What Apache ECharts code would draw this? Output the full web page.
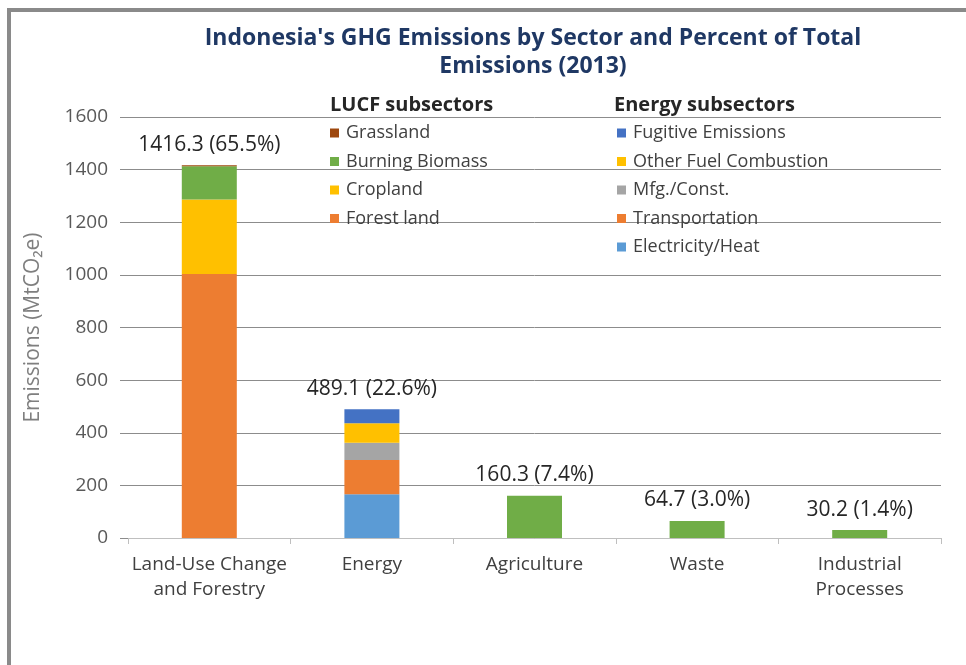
<!DOCTYPE html>
<html>
<head>
<meta charset="utf-8">
<script src="https://cdn.jsdelivr.net/npm/echarts@6/dist/echarts.min.js"></script>
<style>
  html, body { margin: 0; padding: 0; background: #fff; overflow: hidden; }
  #frame { position: absolute; left: 7px; top: 8px; width: 2000px; height: 2000px;
           border-left: 4px solid #8a8a8a; border-top: 4px solid #8a8a8a; }
  #chart { position: absolute; left: 0; top: 0; width: 966px; height: 665px; }
</style>
</head>
<body>
<div id="frame"></div>
<div id="chart"></div>
<script>
// ---- data ----
const categories = ['Land-Use Change\nand Forestry', 'Energy', 'Agriculture', 'Waste', 'Industrial\nProcesses'];
const totals = [1416.3, 489.1, 160.3, 64.7, 30.2];
const shares = [65.5, 22.6, 7.4, 3.0, 1.4];

// LUCF subsectors (category 0)
const lucfNames = ['Forest land', 'Cropland', 'Burning Biomass', 'Grassland'];
const lucfValues = [1003.0, 283.0, 127.0, 3.3];

// Energy subsectors (category 1)
const energyNames = ['Electricity/Heat', 'Transportation', 'Mfg./Const.', 'Other Fuel Combustion', 'Fugitive Emissions'];
const energyValues = [166.0, 130.0, 66.0, 74.0, 53.1];

// Other sectors (single values)
const otherSectorValues = [null, null, 160.3, 64.7, 30.2];

const yTicks = [0, 200, 400, 600, 800, 1000, 1200, 1400, 1600];

// ---- styles ----
const colors = {
  'Forest land': '#ED7D31', 'Cropland': '#FFC000', 'Burning Biomass': '#70AD47', 'Grassland': '#9E480E',
  'Electricity/Heat': '#5B9BD5', 'Transportation': '#ED7D31', 'Mfg./Const.': '#A5A5A5',
  'Other Fuel Combustion': '#FFC000', 'Fugitive Emissions': '#4472C4', 'Other sectors': '#70AD47'
};
const FONT = '"Open Sans", Lato, sans-serif';
const labelText = i => totals[i].toFixed(1) + ' (' + shares[i].toFixed(1) + '%)';
const topLabel = i => ({ show: true, position: 'top', distance: 10, formatter: () => labelText(i),
  color: '#262626', fontSize: 21, fontFamily: FONT });

function buildSeries() {
  const series = [];
  lucfNames.forEach((n, k) => {
    const data = categories.map((c, i) => {
      if (i !== 0) return null;
      const item = { value: lucfValues[k] };
      if (k === lucfNames.length - 1) item.label = topLabel(0);
      return item;
    });
    series.push({ name: n, type: 'bar', stack: 'total', barWidth: 55, data, itemStyle: { color: colors[n] } });
  });
  energyNames.forEach((n, k) => {
    const data = categories.map((c, i) => {
      if (i !== 1) return null;
      const item = { value: energyValues[k] };
      if (k === energyNames.length - 1) item.label = topLabel(1);
      return item;
    });
    series.push({ name: n, type: 'bar', stack: 'total', barWidth: 55, data, itemStyle: { color: colors[n] } });
  });
  series.push({
    name: 'Other sectors', type: 'bar', stack: 'total', barWidth: 52,
    data: otherSectorValues.map((v, i) => v === null ? null : { value: v, label: topLabel(i) }),
    itemStyle: { color: colors['Other sectors'] }
  });
  return series;
}

const legendCommon = {
  orient: 'vertical', icon: 'rect', itemWidth: 9, itemHeight: 9, itemGap: 8.5, padding: 0,
  selectedMode: false,
  textStyle: { color: '#404040', fontSize: 18, fontFamily: FONT, lineHeight: 20, padding: [0, 0, 0, 2] }
};

const chart = echarts.init(document.getElementById('chart'));
chart.setOption({
  animation: false,
  grid: { left: 128, right: 25, top: 117, bottom: 127 },
  graphic: [
    { type: 'text', x: 533, y: 24, style: {
      text: "Indonesia's GHG Emissions by Sector and Percent of Total\nEmissions (2013)",
      fill: '#1F3864', font: 'bold 23px ' + FONT, textAlign: 'center', lineHeight: 28 } },
    { type: 'text', left: 330, top: 95, style: { text: 'LUCF subsectors', fill: '#262626', font: 'bold 20px ' + FONT } },
    { type: 'text', left: 614, top: 95, style: { text: 'Energy subsectors', fill: '#262626', font: 'bold 20px ' + FONT } }
  ],
  legend: [
    Object.assign({ left: 330, top: 123, data: lucfNames.slice().reverse() }, legendCommon),
    Object.assign({ left: 617, top: 123, data: energyNames.slice().reverse() }, legendCommon)
  ],
  xAxis: {
    type: 'category', data: categories,
    axisLine: { lineStyle: { color: '#bfbfbf' } },
    axisTick: { show: true, length: 6, lineStyle: { color: '#bfbfbf' } },
    axisLabel: { interval: 0, color: '#404040', fontSize: 19, fontFamily: FONT, lineHeight: 25, margin: 14 }
  },
  yAxis: {
    type: 'value', min: yTicks[0], max: yTicks[yTicks.length - 1], interval: 200,
    name: 'Emissions (MtCO\u2082e)', nameLocation: 'middle', nameGap: 84,
    nameTextStyle: { color: '#7f7f7f', fontSize: 21, fontFamily: FONT },
    axisLine: { show: false },
    axisTick: { show: true, length: 8, lineStyle: { color: '#8c8c8c' } },
    axisLabel: { color: '#595959', fontSize: 19, fontFamily: FONT, margin: 20, formatter: v => String(v) },
    splitLine: { lineStyle: { color: '#8c8c8c', width: 1 } }
  },
  series: buildSeries()
});
</script>
</body>
</html>
